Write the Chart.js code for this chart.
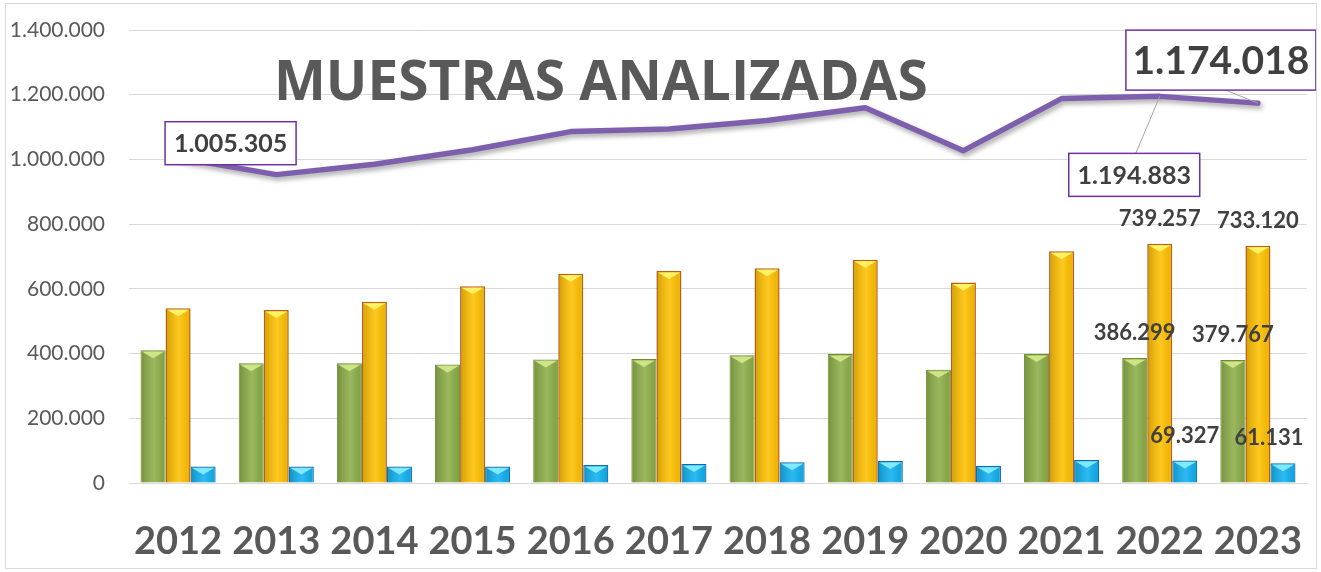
<!DOCTYPE html>
<html lang="es">
<head>
<meta charset="utf-8">
<title>Muestras analizadas</title>
<script src="https://cdn.jsdelivr.net/npm/chart.js@4.4.1/dist/chart.umd.min.js"></script>
<style>
  html, body { margin: 0; padding: 0; background: #fff; }
  #wrap { position: relative; width: 1321px; height: 572px; }
</style>
</head>
<body>
<div id="wrap"><canvas id="chart"></canvas></div>
<script>
// ================= DATA =================
const years = ['2012', '2013', '2014', '2015', '2016', '2017', '2018', '2019', '2020', '2021', '2022', '2023'];
const verdes = [410000, 370000, 370000, 366000, 382000, 383000, 395000, 399000, 350000, 399000, 386299, 379767];
const amarillas = [540000, 535000, 560000, 608000, 647000, 655000, 664000, 690000, 620000, 716000, 739257, 733120];
const azules = [51000, 51000, 51000, 51000, 56000, 59000, 64000, 68000, 53000, 71000, 69327, 61131];
const totales = [1005305, 953000, 985000, 1030000, 1086000, 1094000, 1120000, 1160000, 1027000, 1188000, 1194883, 1174018];
const yTicks = [0, 200000, 400000, 600000, 800000, 1000000, 1200000, 1400000];
const title = 'MUESTRAS ANALIZADAS';

// which years carry bar value labels
const labelledYears = ['2022', '2023'];

const GRAY = '#595959';
const DARK = '#404040';
const PURPLE = '#7030a0';

function fmt(v) {
    return String(Math.round(v)).replace(/\B(?=(\d{3})+(?!\d))/g, '.');
}

// ================= PLUGINS =================
// outer frame
const frame = {
    id: 'frame',
    afterDraw(chart) {
        const ctx = chart.ctx;
        ctx.save();
        ctx.strokeStyle = '#d9d9d9';
        ctx.lineWidth = 1;
        ctx.strokeRect(5.5, 3.5, 1311, 565);
        ctx.restore();
    }
};

// big title sitting over the grid
const bigTitle = {
    id: 'bigTitle',
    beforeDatasetsDraw(chart) {
        const ctx = chart.ctx;
        ctx.save();
        ctx.font = 'bold 55px "Open Sans"';
        ctx.fillStyle = GRAY;
        ctx.textAlign = 'left';
        ctx.textBaseline = 'alphabetic';
        ctx.fillText(title, 274, 100);
        ctx.restore();
    }
};

// bevel look on the bars
const bevelColors = ['#cde585', '#fff263', '#7fe9ff'];
const barShade = {
    id: 'barShade',
    afterDatasetDraw(chart, args) {
        if (args.meta.type !== 'bar') return;
        const ctx = chart.ctx;
        const i = args.index;
        ctx.save();
        args.meta.data.forEach(el => {
            const { x, y, base, width } = el.getProps(['x', 'y', 'base', 'width'], true);
            const l = x - width / 2;
            const g = ctx.createLinearGradient(l, 0, l + width, 0);
            g.addColorStop(0, 'rgba(0,0,0,0.18)');
            g.addColorStop(0.55, 'rgba(255,255,255,0.12)');
            g.addColorStop(1, 'rgba(0,0,0,0.08)');
            ctx.fillStyle = g;
            ctx.fillRect(l + 1, y + 1, width - 2, base - y - 1);
            ctx.fillStyle = bevelColors[i];
            ctx.beginPath();
            ctx.moveTo(l + 1.5, y + 1.5);
            ctx.lineTo(l + width - 1.5, y + 1.5);
            ctx.lineTo(x, y + 8);
            ctx.closePath();
            ctx.fill();
        });
        ctx.restore();
    }
};

// soft shadow under the total line
const lineShadow = {
    id: 'lineShadow',
    beforeDatasetDraw(chart, args) {
        if (args.meta.type !== 'line') return;
        const ctx = chart.ctx;
        ctx.save();
        ctx.shadowColor = 'rgba(0,0,0,0.35)';
        ctx.shadowBlur = 5;
        ctx.shadowOffsetX = 2;
        ctx.shadowOffsetY = 3;
    },
    afterDatasetDraw(chart, args) {
        if (args.meta.type !== 'line') return;
        chart.ctx.restore();
    }
};

// value labels
const lineBoxes = [
    { idx: 0, dx: -13, dy: -36, w: 131, h: 43, size: 25 },
    { idx: 10, dx: -91, dy: 57, w: 131, h: 43, size: 25, lead: [-24, 57] },
    { idx: 11, dx: -132, dy: -73, w: 190, h: 60, size: 39, lead: [-35, -14] }
];
const barLabelShift = [[0, 0], [0, 0], [0, -14]];

const valueLabels = {
    id: 'valueLabels',
    afterDatasetsDraw(chart) {
        const ctx = chart.ctx;
        ctx.save();
        ctx.textBaseline = 'middle';
        // bar labels
        [0, 1, 2].forEach(d => {
            const meta = chart.getDatasetMeta(d);
            labelledYears.forEach((yr, k) => {
                const i = years.indexOf(yr);
                const el = meta.data[i];
                ctx.font = 'bold 22px Lato';
                ctx.fillStyle = DARK;
                ctx.textAlign = 'center';
                ctx.fillText(fmt(chart.data.datasets[d].data[i]), el.x + barLabelShift[d][k], el.y - 25);
            });
        });
        // line labels in boxes
        const lm = chart.getDatasetMeta(3);
        lineBoxes.forEach(b => {
            const p = lm.data[b.idx];
            const bx = p.x + b.dx, by = p.y + b.dy;
            if (b.lead) {
                ctx.strokeStyle = '#a6a6a6';
                ctx.lineWidth = 1;
                ctx.beginPath();
                ctx.moveTo(p.x + b.lead[0], p.y + b.lead[1]);
                ctx.lineTo(p.x, p.y);
                ctx.stroke();
            }
            ctx.fillStyle = '#fff';
            ctx.fillRect(bx, by, b.w, b.h);
            ctx.strokeStyle = PURPLE;
            ctx.lineWidth = 1.5;
            ctx.strokeRect(bx, by, b.w, b.h);
            ctx.font = 'bold ' + b.size + 'px Lato';
            ctx.fillStyle = DARK;
            ctx.textAlign = 'center';
            ctx.fillText(fmt(chart.data.datasets[3].data[b.idx]), bx + b.w / 2, by + b.h / 2 + 1);
        });
        ctx.restore();
    }
};

// ================= CHART =================
function init() {
    const ctx = document.getElementById('chart').getContext('2d');
    new Chart(ctx, {
        data: {
            labels: years,
            datasets: [
                {
                    type: 'bar', label: 'A', data: verdes, order: 2,
                    backgroundColor: '#8cae48', borderColor: '#6e8c2e', borderWidth: 1,
                    categoryPercentage: 0.765, barPercentage: 1.0
                },
                {
                    type: 'bar', label: 'B', data: amarillas, order: 2,
                    backgroundColor: '#ffc000', borderColor: '#c0600f', borderWidth: 1.5,
                    categoryPercentage: 0.765, barPercentage: 1.0
                },
                {
                    type: 'bar', label: 'C', data: azules, order: 2,
                    backgroundColor: '#0fb0f0', borderColor: '#0d6aae', borderWidth: 1.2,
                    categoryPercentage: 0.765, barPercentage: 1.0
                },
                {
                    type: 'line', label: 'Total', data: totales, order: 1,
                    borderColor: '#7d5fae', borderWidth: 5.5, pointRadius: 0,
                    tension: 0, borderCapStyle: 'round', borderJoinStyle: 'round', fill: false
                }
            ]
        },
        options: {
            responsive: false,
            animation: false,
            devicePixelRatio: 1,
            layout: { padding: { left: 5, right: 14, top: 30, bottom: 0 } },
            plugins: {
                legend: { display: false },
                tooltip: { enabled: false },
                title: { display: false }
            },
            scales: {
                x: {
                    grid: { display: false, drawTicks: false },
                    border: { display: true, color: '#d9d9d9', width: 1 },
                    ticks: {
                        color: GRAY,
                        padding: 36,
                        font: { family: 'Lato', size: 38, weight: 'bold' }
                    },
                    afterFit(scale) {
                        scale.height = 89;
                        scale.paddingLeft = 0;
                        scale.paddingRight = 0;
                    }
                },
                y: {
                    min: 0,
                    max: 1400000,
                    afterBuildTicks(scale) { scale.ticks = yTicks.map(v => ({ value: v })); },
                    grid: { color: '#d9d9d9', lineWidth: 1, drawTicks: false },
                    border: { display: false },
                    ticks: {
                        color: GRAY,
                        padding: 24,
                        font: { family: 'Lato', size: 21 },
                        callback: v => fmt(v)
                    },
                    afterFit(scale) {
                        scale.width = 124;
                        scale.paddingTop = 0;
                        scale.paddingBottom = 0;
                    }
                }
            }
        },
        plugins: [frame, bigTitle, barShade, lineShadow, valueLabels]
    });
}

const cv = document.getElementById('chart');
cv.width = 1321;
cv.height = 572;
cv.style.width = '1321px';
cv.style.height = '572px';
init();
</script>
</body>
</html>
